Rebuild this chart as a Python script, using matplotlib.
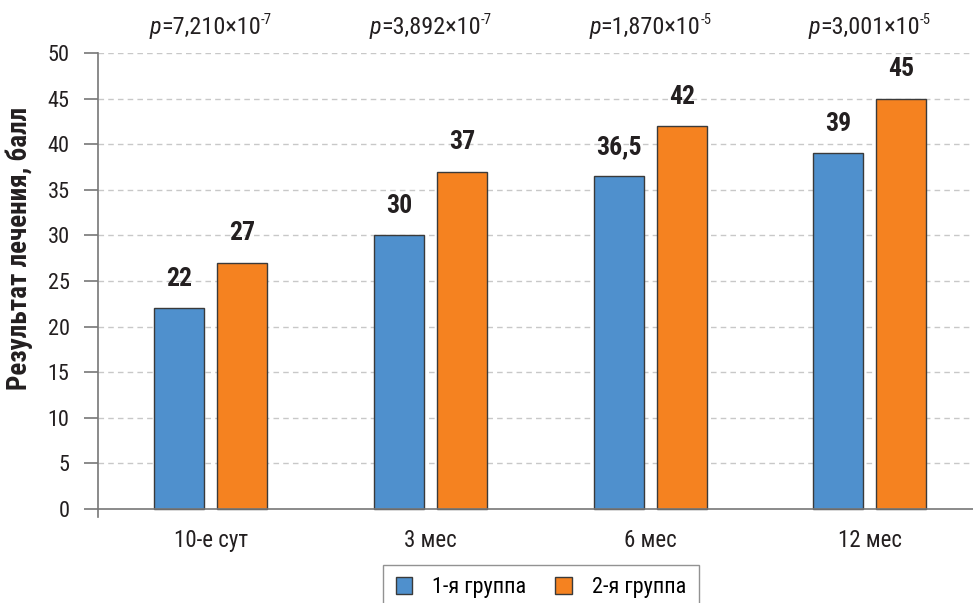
import matplotlib
matplotlib.use("Agg")
import matplotlib.pyplot as plt
import numpy as np
from matplotlib.patches import Patch

categories = ["10-е сут", "3 мес", "6 мес", "12 мес"]
group1 = [22, 30, 36.5, 39]
group2 = [27, 37, 42, 45]
labels1 = ["22", "30", "36,5", "39"]
labels2 = ["27", "37", "42", "45"]
p_mant = ["7,210", "3,892", "1,870", "3,001"]
p_exp = ["-7", "-7", "-5", "-5"]
series_names = ["1-я группа", "2-я группа"]
ylabel = "Результат лечения, балл"

FONT = ["Roboto Condensed", "PT Sans Narrow", "Fira Sans Condensed", "Ubuntu Condensed",
        "IBM Plex Sans Condensed", "Archivo Narrow", "Roboto", "DejaVu Sans"]
plt.rcParams['font.family'] = FONT

W, H = 973, 603
fig = plt.figure(figsize=(W/100, H/100), dpi=100)
ymin = -0.85
px_per = 456/50
bottom_px = 509 + (-ymin)*px_per
ax = fig.add_axes([98/W, (H-bottom_px)/H, 875/W, (bottom_px-53)/H])

blue = "#4F90CD"
orange = "#F58220"
edge = "#3a3a3a"
txtc = "#231f20"
x = np.arange(len(categories))
bw = 0.2276
off = 0.1434
ax.bar(x - off, group1, bw, color=blue, edgecolor=edge, linewidth=1.0, zorder=3)
ax.bar(x + off, group2, bw, color=orange, edgecolor=edge, linewidth=1.0, zorder=3)

for xi, v, lab in zip(x - off, group1, labels1):
    ax.text(xi, v + 1.9, lab, ha='center', va='bottom', fontsize=18.5, fontweight='bold', color=txtc)
for xi, v, lab in zip(x + off, group2, labels2):
    ax.text(xi, v + 1.9, lab, ha='center', va='bottom', fontsize=18.5, fontweight='bold', color=txtc)

ax.set_xlim(-0.514, 3.469)
ax.set_ylim(ymin, 50)
ax.set_yticks(np.arange(0, 51, 5))
ax.set_xticks(x)
ax.set_xticklabels(categories)
for yv in np.arange(5, 51, 5):
    ax.axhline(yv, color='#c8c8c8', linestyle=(0, (4, 3)), linewidth=1.0, zorder=1)
ax.axhline(0, color='#777777', linewidth=1.2, zorder=4)

for s in ['top', 'right', 'bottom']:
    ax.spines[s].set_visible(False)
ax.spines['left'].set_color('#777777')
ax.spines['left'].set_linewidth(1.2)
ax.tick_params(axis='y', length=10, width=1.2, color='#777777', labelsize=16, pad=10.5, labelcolor=txtc)
ax.tick_params(axis='x', length=0, labelsize=16.5, pad=9, labelcolor=txtc)

fig.text(19/W, 1 - 248/H, ylabel, rotation=90, ha='center', va='center',
         fontsize=19.5, fontweight='bold', color=txtc)

handles = [Patch(facecolor=blue, edgecolor=edge), Patch(facecolor=orange, edgecolor=edge)]
leg = fig.legend(handles, series_names, loc='upper center', bbox_to_anchor=(541/W, 1 - 565/H), ncol=2,
                 frameon=True, fontsize=16, handlelength=0.75, handleheight=0.75, columnspacing=1.3,
                 handletextpad=0.9, fancybox=False, edgecolor='#777777', borderpad=0.55, borderaxespad=0)
leg.get_frame().set_linewidth(1.0)

# p-value labels: italic p + mantissa + superscript exponent
fig.canvas.draw()
renderer = fig.canvas.get_renderer()
for xi, m, e in zip(x, p_mant, p_exp):
    xp = ax.transData.transform((xi, 0))[0]
    base_y = H - 34
    main = fig.text(0, 0, "=" + m + "×10", fontsize=17.5, color=txtc,
                    transform=None, ha='left', va='baseline')
    pt = fig.text(0, 0, "p", fontsize=17.5, style='italic', color=txtc,
                  transform=None, ha='left', va='baseline')
    ex = fig.text(0, 0, e, fontsize=10.5, color=txtc, transform=None, ha='left', va='baseline')
    wm = main.get_window_extent(renderer).width
    wp = pt.get_window_extent(renderer).width
    we = ex.get_window_extent(renderer).width
    total = wp + wm + we
    x0 = xp - total/2
    pt.set_position((x0, base_y))
    main.set_position((x0 + wp, base_y))
    ex.set_position((x0 + wp + wm, base_y + 10))

fig.savefig("out.png", dpi=100)
